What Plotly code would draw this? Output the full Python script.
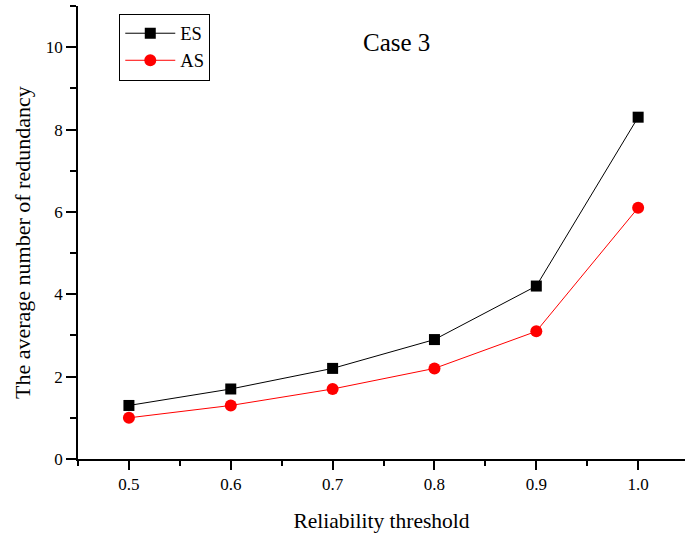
import plotly.graph_objects as go

thresholds = [0.5, 0.6, 0.7, 0.8, 0.9, 1.0]
es_values = [1.3, 1.7, 2.2, 2.9, 4.2, 8.3]
as_values = [1.0, 1.3, 1.7, 2.2, 3.1, 6.1]
x_tick_vals = [0.5, 0.6, 0.7, 0.8, 0.9, 1.0]
x_tick_text = ["0.5", "0.6", "0.7", "0.8", "0.9", "1.0"]

FONT = "Liberation Serif, Times New Roman, serif"

fig = go.Figure()
fig.add_trace(go.Scatter(x=thresholds, y=es_values, mode="lines+markers", name="ES",
                         line=dict(color="black", width=1),
                         marker=dict(symbol="square", size=11, color="black")))
fig.add_trace(go.Scatter(x=thresholds, y=as_values, mode="lines+markers", name="AS",
                         line=dict(color="red", width=1),
                         marker=dict(symbol="circle", size=12, color="red")))

fig.update_layout(
    width=685, height=533,
    margin=dict(l=78, r=0, t=6, b=74, autoexpand=False),
    paper_bgcolor="white", plot_bgcolor="white",
    font=dict(family=FONT, size=17, color="black"),
    showlegend=True,
    legend=dict(x=0.068, y=0.983, xanchor="left", yanchor="top",
                bordercolor="black", borderwidth=1, bgcolor="white",
                font=dict(size=18.5, family=FONT, color="black"), tracegroupgap=0, itemwidth=50),
    annotations=[
        dict(text="Case 3", x=(396 - 78) / 607, y=1 - (43 - 6) / 453, xref="paper", yref="paper",
             xanchor="center", yanchor="middle",
             showarrow=False, font=dict(size=25, family=FONT, color="black")),
        dict(text="The average number of redundancy", x=(22 - 78) / 607, y=(459 - 243) / 453,
             xref="paper", yref="paper",
             showarrow=False, textangle=-90, xanchor="center", yanchor="middle",
             font=dict(size=22, family=FONT, color="black")),
    ],
)

fig.update_xaxes(range=[0.45, 1.046], showgrid=False, zeroline=False,
                 showline=True, linecolor="black", linewidth=1.5,
                 ticks="outside", ticklen=9, tickwidth=1.5, tickcolor="black",
                 tickvals=x_tick_vals, ticktext=x_tick_text,
                 tickfont=dict(size=17, family=FONT, color="black"),
                 minor=dict(ticks="outside", ticklen=5, tickwidth=1.5, tickcolor="black",
                            tick0=0.45, dtick=0.05),
                 title=dict(text="Reliability threshold", font=dict(size=21.5, family=FONT, color="black"),
                            standoff=20))
fig.update_yaxes(range=[0, 11], showgrid=False, zeroline=False,
                 showline=True, linecolor="black", linewidth=1.5,
                 ticks="outside", ticklen=10, tickwidth=1.5, tickcolor="black",
                 tick0=0, dtick=2,
                 tickfont=dict(size=17, family=FONT, color="black"),
                 minor=dict(ticks="outside", ticklen=6, tickwidth=1.5, tickcolor="black",
                            tick0=0, dtick=1))

fig.write_html("out.html", post_script="document.body.style.margin='0';",
               config={"displayModeBar": False})
